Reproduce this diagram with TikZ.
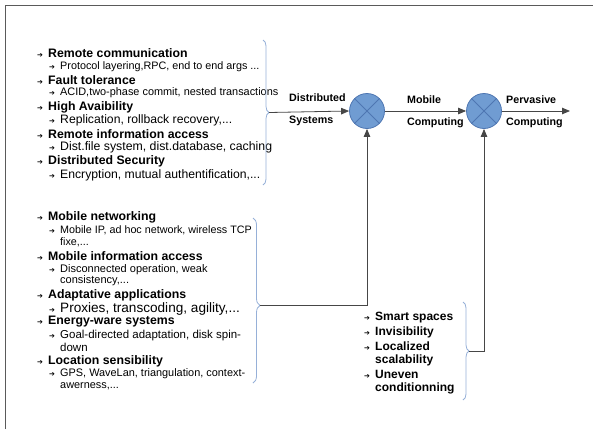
\documentclass[tikz,border=0pt]{standalone}
\usepackage{fontspec}
\setmainfont{Liberation Sans}
\newfontfamily\symfont{DejaVu Sans}
\usetikzlibrary{arrows.meta,decorations.pathreplacing}
\definecolor{circfill}{RGB}{112,156,210}
\definecolor{circdraw}{RGB}{78,118,178}
\definecolor{bracecol}{RGB}{150,176,216}
\definecolor{framecol}{RGB}{90,90,90}
\definecolor{linecol}{RGB}{70,70,70}
\newcommand{\bul}{\makebox[11pt][l]{\symfont\fontsize{7}{7}\selectfont ➔}}
\newcommand{\fs}[1]{\fontsize{#1}{#1}\selectfont}
\tikzset{
  mainitem/.style={anchor=west, inner sep=0pt, font=\fs{12.3}\bfseries},
  subitem/.style={anchor=west, inner sep=0pt, font=\fs{11}},
  rightitem/.style={anchor=west, inner sep=0pt, font=\fs{12}\bfseries},
  lbl/.style={anchor=west, inner sep=0pt, font=\fs{10.7}\bfseries},
  mixer/.style={circle, fill=circfill, draw=circdraw, line width=0.8pt, minimum size=35pt, inner sep=0pt},
  bracestyle/.style={draw=bracecol, line width=0.8pt, decorate},
  conn/.style={draw=linecol, line width=0.8pt},
  arr/.style={conn, -{Triangle[length=8pt,width=6.5pt]}},
}
\begin{document}
\begin{tikzpicture}[x=1pt,y=-1pt]
\useasboundingbox (0,0) rectangle (593,429);
% frame
\draw[framecol, line width=1.5pt] (5.5,429) -- (5.5,5.5) -- (593,5.5);

% top list
\node[mainitem] (t1) at (37,53) {\bul Remote communication};
\node[subitem, font=\fs{10.8}] (t1a) at (49,67) {\bul Protocol layering,RPC, end to end args ...};
\node[mainitem] (t2) at (37,80) {\bul Fault tolerance};
\node[subitem, font=\fs{10.9}] (t2a) at (49,93) {\bul ACID,two-phase commit, nested transactions};
\node[mainitem] (t3) at (37,107) {\bul High Avaibility};
\node[subitem, font=\fs{12.2}] (t3a) at (49,120) {\bul Replication, rollback recovery,...};
\node[mainitem] (t4) at (37,134) {\bul Remote information access};
\node[subitem, font=\fs{12.3}] (t4a) at (49,147) {\bul Dist.file system, dist.database, caching};
\node[mainitem] (t5) at (37,161) {\bul Distributed Security};
\node[subitem, font=\fs{12.2}] (t5a) at (49,175) {\bul Encryption, mutual authentification,...};

% bottom list
\node[mainitem] (b1) at (37,217) {\bul Mobile networking};
\node[subitem, font=\fs{10.75}] (b1a) at (49,230) {\bul Mobile IP, ad hoc network, wireless TCP};
\node[subitem, font=\fs{10.75}] (b1b) at (60,242) {fixe,...};
\node[mainitem] (b2) at (37,256) {\bul Mobile information access};
\node[subitem, font=\fs{11}] (b2a) at (49,270) {\bul Disconnected operation, weak};
\node[subitem, font=\fs{11}] (b2b) at (60,281) {consistency,...};
\node[mainitem] (b3) at (37,295) {\bul Adaptative applications};
\node[subitem, font=\fs{13.6}] (b3a) at (49,309) {\bul Proxies, transcoding, agility,...};
\node[mainitem] (b4) at (37,322) {\bul Energy-ware systems};
\node[subitem, font=\fs{11.5}] (b4a) at (49,336) {\bul Goal-directed adaptation, disk spin-};
\node[subitem, font=\fs{11.5}] (b4b) at (60,347) {down};
\node[mainitem] (b5) at (37,361) {\bul Location sensibility};
\node[subitem, font=\fs{10.9}] (b5a) at (49,374) {\bul GPS, WaveLan, triangulation, context-};
\node[subitem, font=\fs{10.9}] (b5b) at (60,386) {awerness,...};

% right list
\node[rightitem] (r1) at (364,318) {\bul Smart spaces};
\node[rightitem] (r2) at (364,332) {\bul Invisibility};
\node[rightitem] (r3) at (364,346) {\bul Localized};
\node[rightitem] (r3b) at (375,360) {scalability};
\node[rightitem] (r4) at (364,374) {\bul Uneven};
\node[rightitem] (r4b) at (375,388) {conditionning};

% braces
\draw[bracestyle, decoration={brace, amplitude=6pt}] (263,40) -- (263,185);
\draw[bracestyle, decoration={brace, amplitude=7pt, aspect=0.53}] (253,218) -- (253,383);
\draw[bracestyle, decoration={brace, amplitude=6pt}] (463,302) -- (463,400);
\coordinate (tipA) at (269,112.5);
\coordinate (tipB) at (260,305);
\coordinate (tipC) at (469,351);

% mixers
\node[mixer] (c1) at (367,111) {};
\node[mixer] (c2) at (484,111) {};
\foreach \c in {c1,c2}{
  \draw[circdraw, line width=0.8pt] (\c.north west) -- (\c.south east);
  \draw[circdraw, line width=0.8pt] (\c.north east) -- (\c.south west);
}
\coordinate (outend) at (570,111);

% connectors
\draw[arr] (tipA) -- (c1.west);
\draw[arr] (c1.east) -- (c2.west);
\draw[arr] (c2.east) -- (outend);
\draw[arr] (tipB) -| (c1.south);
\draw[arr] (tipC) -| (c2.south);

% labels
\node[lbl] (l1) at (289,98) {Distributed};
\node[lbl] (l2) at (289,121) {Systems};
\node[lbl] (l3) at (407,100) {Mobile};
\node[lbl] (l4) at (407,123) {Computing};
\node[lbl] (l5) at (506,100) {Pervasive};
\node[lbl] (l6) at (506,123) {Computing};
\end{tikzpicture}
\end{document}
